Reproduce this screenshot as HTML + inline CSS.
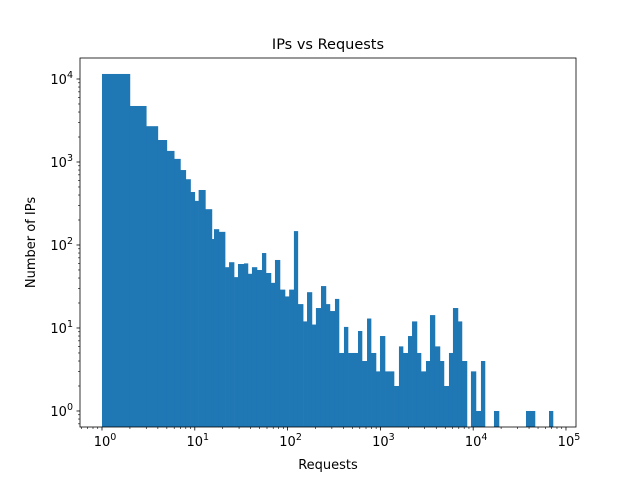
<!DOCTYPE html>
<html><head><meta charset="utf-8"><style>
body{margin:0;background:#fff;}
svg{display:block;font-family:"DejaVu Sans","Liberation Sans",sans-serif;}
</style></head><body>
<svg id="chart" width="640" height="480" viewBox="0 0 640 480" xmlns="http://www.w3.org/2000/svg">
<rect width="640" height="480" fill="#fff"/>
<text x="328" y="49" font-size="14.5" text-anchor="middle">IPs vs Requests</text>
<text x="328" y="469" font-size="13" text-anchor="middle">Requests</text>
<text transform="translate(35,242.5) rotate(-90)" font-size="13" text-anchor="middle">Number of IPs</text>
<g id="bars"></g>
<g id="axes"></g>
</svg>
<script>
const binLeft = [1,2,3,4,5,6,7,8,9,10,11,13,15.3,16.1,18.2,21.2,23.4,26.5,29.2,33.9,37.4,41.3,46.8,53,58.5,66.2,73.1,82.8,93.8,104,117,129,147,162,183,202,229,259,286,324,358,405,448,574,634,718,793,897,991,1122,1403,1585,1754,1984,2193,2478,2740,3100,3423,3873,4385,4842,5483,6053,6855,7568,9462,10715,12130,16750,37070,65620];
const binRight = [2,3,4,5,6,7,8,9,10,11,13,15.3,16.1,18.2,21.2,23.4,26.5,29.2,33.9,37.4,41.3,46.8,53,58.5,66.2,73.1,82.8,93.8,104,117,129,147,162,183,202,229,259,286,324,358,405,448,574,634,718,793,897,991,1122,1403,1585,1754,1984,2193,2478,2740,3100,3423,3873,4385,4842,5483,6053,6855,7568,8570,10715,12130,13400,18970,46340,72440];
const counts = [11500,4730,2700,1840,1360,1090,800,620,435,340,460,270,118,155,144,54,62,41,59,60,45,54,50,80,46,35,66,29,24,29,147,19.4,12,27,11,17.4,32,19.4,16,22.4,5,10.3,5,9.2,4,13,5,3,8,3,2,6,5,8,12,5,3,4,14.3,6,4,2,5,17.4,12,4,3,1,4,1,1,1];
const xTickExps = [0,1,2,3,4,5];
const yTickExps = [0,1,2,3,4];

const L=80,R=576,T=58,B=427;
const xMin=-0.237,xMax=5.108,yMin=-0.193,yMax=4.253;
const xs=v=>L+(Math.log10(v)-xMin)/(xMax-xMin)*(R-L);
const ys=v=>B-(Math.log10(v)-yMin)/(yMax-yMin)*(B-T);
const NS="http://www.w3.org/2000/svg";
function mk(tag,attrs,parent){const e=document.createElementNS(NS,tag);for(const k in attrs)e.setAttribute(k,attrs[k]);parent.appendChild(e);return e;}
const bars=document.getElementById('bars');
for(let i=0;i<counts.length;i++){
  const x0=xs(binLeft[i]),x1=xs(binRight[i]),y=ys(counts[i]);
  const r=mk('rect',{x:x0,y:y,width:x1-x0+0.3,height:B-y,fill:'#1f77b4'},bars);
  
  
}
const ax=document.getElementById('axes');
const frame=mk('rect',{x:L,y:T,width:R-L,height:B-T,fill:'none',stroke:'#000','stroke-width':0.8},ax);


function sup(parent,x,y,e,anchor){
  const t=mk('text',{x:x,y:y,'font-size':13,'text-anchor':anchor},parent);
  
  
  const a=document.createElementNS(NS,'tspan');a.textContent='10';t.appendChild(a);
  const b=document.createElementNS(NS,'tspan');b.setAttribute('dy','-6');b.setAttribute('font-size','9.5');b.textContent=String(e);t.appendChild(b);
}
for(let e=-1;e<=5;e++){
  for(let m=1;m<10;m++){
    const v=m*Math.pow(10,e);const lv=Math.log10(v);
    if(lv>=xMin&&lv<=xMax){
      const x=xs(v);const len=m===1?3.5:2;
      const tk=mk('line',{x1:x,x2:x,y1:B,y2:B+len,stroke:'#000','stroke-width':m===1?0.8:0.6},ax);
      
      
    }
    if(lv>=yMin&&lv<=yMax){
      const y=ys(v);const len=m===1?3.5:2;
      const tk=mk('line',{x1:L-len,x2:L,y1:y,y2:y,stroke:'#000','stroke-width':m===1?0.8:0.6},ax);
      
      
    }
  }
}
xTickExps.forEach(e=>sup(ax,xs(Math.pow(10,e))+3,446,e,'middle'));
yTickExps.forEach(e=>sup(ax,L-7,ys(Math.pow(10,e))+5,e,'end'));
</script>
</body></html>
